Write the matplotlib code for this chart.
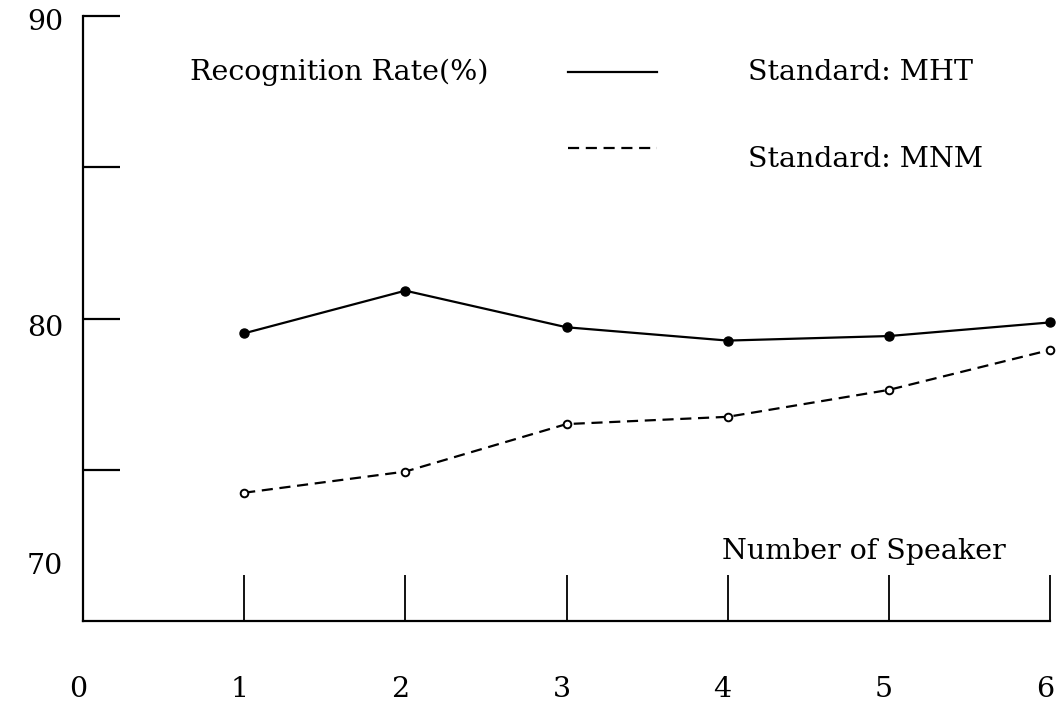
import matplotlib
matplotlib.use("Agg")
import matplotlib.pyplot as plt
from matplotlib.transforms import blended_transform_factory, offset_copy

speakers = [1, 2, 3, 4, 5, 6]
mht = [79.51, 80.92, 79.71, 79.27, 79.42, 79.87]
mnm = [74.24, 74.94, 76.51, 76.75, 77.64, 78.96]
x_tick_labels = ["0", "1", "2", "3", "4", "5", "6"]
y_label_texts = ["70", "80", "90"]
y_label_pos = [71.8, 79.67, 89.8]

plt.rcParams['font.family'] = ['DejaVu Serif']
FS = 20.5

fig = plt.figure(figsize=(10.57, 7.09), dpi=100)
ax = fig.add_axes([83/1057, 88/709, 967/1057, 605/709])
ax.set_xlim(0, 6)
ax.set_ylim(70, 90)
for s in ['top', 'right']:
    ax.spines[s].set_visible(False)
for s in ['left', 'bottom']:
    ax.spines[s].set_linewidth(1.6)

ax.set_xticks([1, 2, 3, 4, 5, 6])
ax.set_xticklabels([])
ax.set_yticks([75, 80, 85, 90])
ax.set_yticklabels([])
ax.tick_params(axis='x', direction='in', length=33, width=1.3)
ax.tick_params(axis='y', direction='in', length=26.5, width=1.6)

ax.plot(speakers, mht, color='black', lw=1.6, marker='o', ms=6.5,
        markerfacecolor='black', clip_on=False)
ax.plot(speakers, mnm, color='black', lw=1.6, dashes=(5, 3), marker='o', ms=5.5,
        markerfacecolor='white', markeredgewidth=1.4, clip_on=False)

# tick labels placed as in the original
tb = offset_copy(blended_transform_factory(ax.transData, ax.transAxes),
                 fig=fig, x=-5, y=0, units='dots')
for i, lab in enumerate(x_tick_labels):
    ax.text(i, -0.114, lab, transform=tb, ha='center', va='center', fontsize=FS)
tl = blended_transform_factory(ax.transAxes, ax.transData)
for lab, yv in zip(y_label_texts, y_label_pos):
    ax.text(-0.0393, yv, lab, transform=tl, ha='center', va='center', fontsize=FS)

# legend / annotations
ta = ax.transAxes
ax.plot([0.5015, 0.5936], [0.9074, 0.9074], transform=ta, color='black', lw=1.6, clip_on=False)
ax.plot([0.5015, 0.5936], [0.7818, 0.7818], transform=ta, color='black', lw=1.6,
        dashes=(5, 3), clip_on=False)
ax.text(0.6877, 0.9074, "Standard: MHT", transform=ta, ha='left', va='center', fontsize=FS)
ax.text(0.6877, 0.762, "Standard: MNM", transform=ta, ha='left', va='center', fontsize=FS)
ax.text(0.1107, 0.9074, "Recognition Rate(%)", transform=ta, ha='left', va='center', fontsize=FS)
ax.text(0.6608, 0.1157, "Number of Speaker", transform=ta, ha='left', va='center', fontsize=FS)

fig.savefig("out.png", dpi=100)
